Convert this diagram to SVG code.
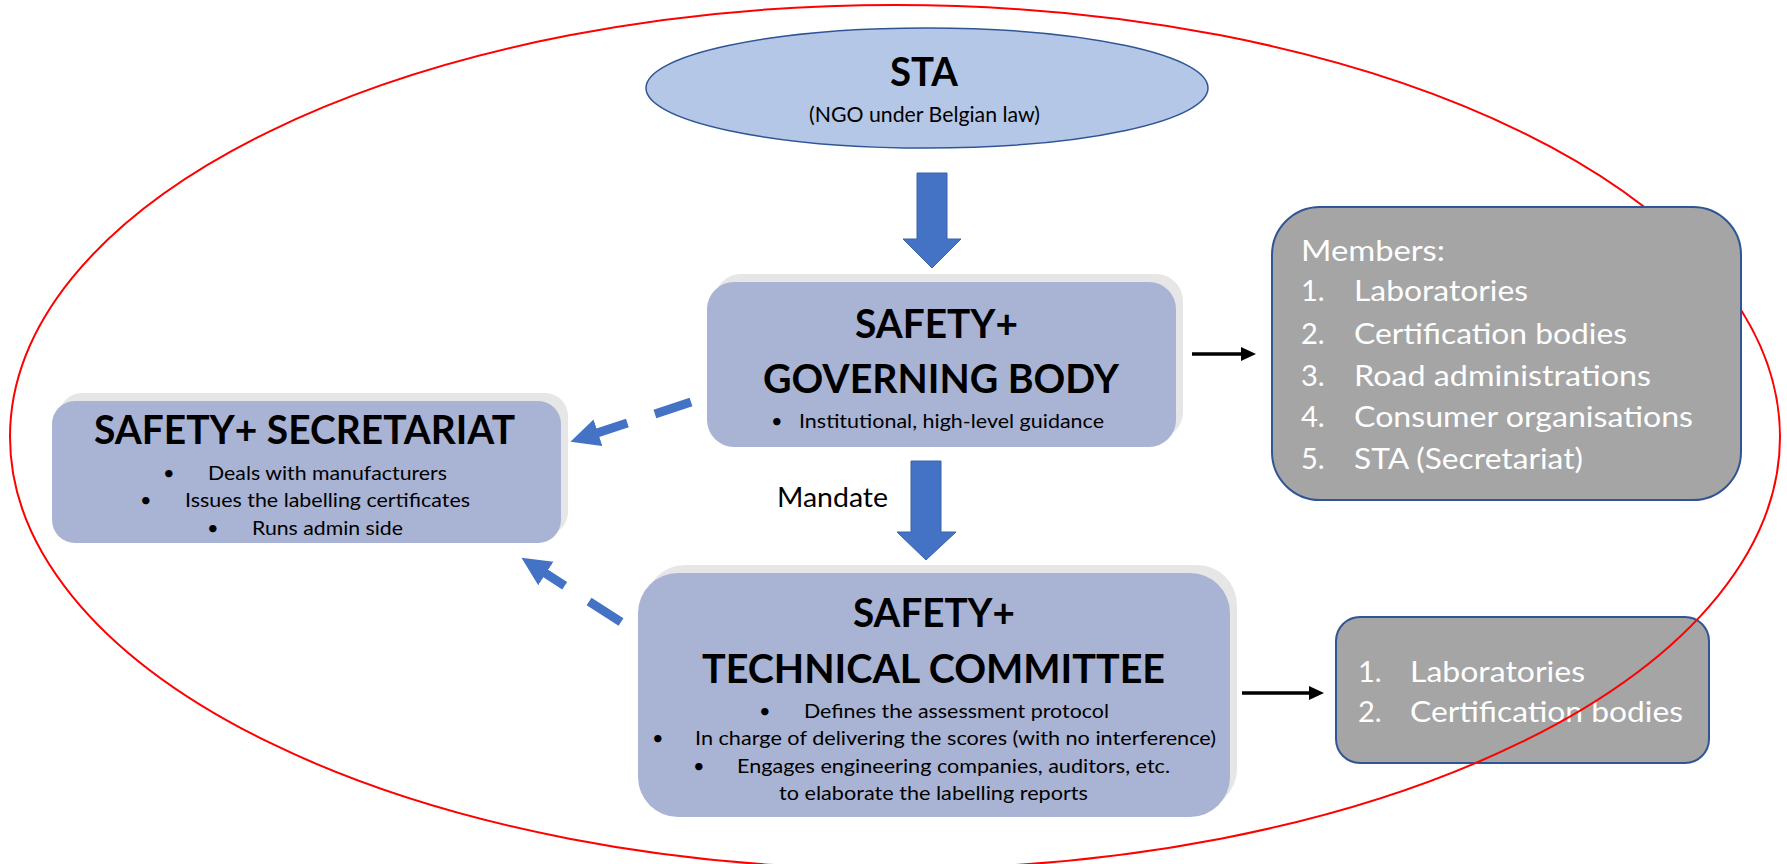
<svg xmlns="http://www.w3.org/2000/svg" width="1787" height="864" viewBox="0 0 1787 864">
  <style>
    .t { font-family: Lato, "Liberation Sans", sans-serif; fill: #000; }
    .title { font-weight: 700; font-size: 40px; }
    .body { font-size: 20px; }
    .list { font-family: Lato, "Liberation Sans", sans-serif; font-size: 29px; fill: #ffffff; }
    .shadow { fill: #e6e6e6; }
    .card { fill: #a9b3d4; }
    .grey { fill: #a5a5a5; stroke: #2f5597; stroke-width: 2; }
    .block { fill: #4472c4; stroke: #3a63ad; stroke-width: 1; }
    .dash { fill: none; stroke: #4472c4; stroke-width: 9; stroke-dasharray: 38 29; }
    .plain { fill: none; stroke: #000; stroke-width: 3.5; }
  </style>
  <defs>
    <marker id="blueHead" markerUnits="userSpaceOnUse" markerWidth="30" markerHeight="30" viewBox="0 0 30 30" refX="1" refY="15" orient="auto">
      <path d="M0,1 L29,15 L0,29 z" fill="#4472c4"/>
    </marker>
    <marker id="blackHead" markerUnits="userSpaceOnUse" markerWidth="16" markerHeight="16" viewBox="0 0 16 16" refX="1" refY="8" orient="auto">
      <path d="M0,1 L15,8 L0,15 z" fill="#000"/>
    </marker>
  </defs>

  <rect width="1787" height="864" fill="#ffffff"/>

  <!-- second list: technical committee members -->
  <g id="tc-members">
    <rect class="grey" x="1336" y="617" width="373" height="146" rx="24"/>
    <text class="list" x="1358" y="682">1.</text>
    <text class="list" x="1410" y="682" textLength="175" lengthAdjust="spacingAndGlyphs">Laboratories</text>
    <text class="list" x="1358" y="722">2.</text>
    <text class="list" x="1410" y="722" textLength="273" lengthAdjust="spacingAndGlyphs">Certification bodies</text>
  </g>

  <!-- red boundary round the organisation -->
  <ellipse id="boundary" cx="895" cy="437" rx="885" ry="432" fill="none" stroke="#ff0000" stroke-width="2"/>

  <!-- first list: governing body members -->
  <g id="gb-members">
    <rect class="grey" x="1272" y="207" width="469" height="293" rx="48"/>
    <text class="list" x="1301" y="261" textLength="144" lengthAdjust="spacingAndGlyphs">Members:</text>
    <text class="list" x="1301" y="301">1.</text>
    <text class="list" x="1354" y="301" textLength="174" lengthAdjust="spacingAndGlyphs">Laboratories</text>
    <text class="list" x="1301" y="344">2.</text>
    <text class="list" x="1354" y="344" textLength="273" lengthAdjust="spacingAndGlyphs">Certification bodies</text>
    <text class="list" x="1301" y="386">3.</text>
    <text class="list" x="1354" y="386" textLength="297" lengthAdjust="spacingAndGlyphs">Road administrations</text>
    <text class="list" x="1301" y="427">4.</text>
    <text class="list" x="1354" y="427" textLength="339" lengthAdjust="spacingAndGlyphs">Consumer organisations</text>
    <text class="list" x="1301" y="469">5.</text>
    <text class="list" x="1354" y="469" textLength="229" lengthAdjust="spacingAndGlyphs">STA (Secretariat)</text>
  </g>

  <!-- STA -->
  <g id="sta">
    <ellipse cx="927" cy="88" rx="281" ry="60" fill="#b4c7e7" stroke="#2f5597" stroke-width="1.5"/>
    <text class="t title" x="890" y="86" textLength="68" lengthAdjust="spacingAndGlyphs">STA</text>
    <text class="t" x="809" y="122" font-size="21" textLength="231" lengthAdjust="spacingAndGlyphs">(NGO under Belgian law)</text>
  </g>

  <!-- governing body -->
  <g id="governing-body">
    <rect class="shadow" x="714" y="274" width="469" height="165" rx="27"/>
    <rect class="card" x="707" y="282" width="469" height="165" rx="27"/>
    <text class="t title" x="855" y="338" textLength="163" lengthAdjust="spacingAndGlyphs">SAFETY+</text>
    <text class="t title" x="763" y="393" textLength="356" lengthAdjust="spacingAndGlyphs">GOVERNING BODY</text>
    <text class="t body" x="771" y="428">•</text>
    <text class="t body" x="799" y="428" textLength="305" lengthAdjust="spacingAndGlyphs">Institutional, high-level guidance</text>
  </g>

  <!-- secretariat -->
  <g id="secretariat">
    <rect class="shadow" x="59" y="393" width="509" height="142" rx="23"/>
    <rect class="card" x="52" y="401" width="509" height="142" rx="23"/>
    <text class="t title" x="94" y="444" textLength="421" lengthAdjust="spacingAndGlyphs">SAFETY+ SECRETARIAT</text>
    <text class="t body" x="163" y="480">•</text>
    <text class="t body" x="208" y="480" textLength="239" lengthAdjust="spacingAndGlyphs">Deals with manufacturers</text>
    <text class="t body" x="140" y="507">•</text>
    <text class="t body" x="185" y="507" textLength="285" lengthAdjust="spacingAndGlyphs">Issues the labelling certificates</text>
    <text class="t body" x="207" y="535">•</text>
    <text class="t body" x="252" y="535" textLength="151" lengthAdjust="spacingAndGlyphs">Runs admin side</text>
  </g>

  <!-- technical committee -->
  <g id="technical-committee">
    <rect class="shadow" x="645" y="565" width="592" height="244" rx="40"/>
    <rect class="card" x="638" y="573" width="592" height="244" rx="40"/>
    <text class="t title" x="853" y="627" textLength="162" lengthAdjust="spacingAndGlyphs">SAFETY+</text>
    <text class="t title" x="702" y="683" textLength="463" lengthAdjust="spacingAndGlyphs">TECHNICAL COMMITTEE</text>
    <text class="t body" x="759" y="718">•</text>
    <text class="t body" x="804" y="718" textLength="305" lengthAdjust="spacingAndGlyphs">Defines the assessment protocol</text>
    <text class="t body" x="652" y="745">•</text>
    <text class="t body" x="695" y="745" textLength="521" lengthAdjust="spacingAndGlyphs">In charge of delivering the scores (with no interference)</text>
    <text class="t body" x="693" y="773">•</text>
    <text class="t body" x="737" y="773" textLength="433" lengthAdjust="spacingAndGlyphs">Engages engineering companies, auditors, etc.</text>
    <text class="t body" x="779" y="800" textLength="309" lengthAdjust="spacingAndGlyphs">to elaborate the labelling reports</text>
  </g>

  <!-- connectors -->
  <g id="connectors">
    <polygon class="block" points="917,173 947,173 947,239 961,239 932,268 903,239 917,239"/>
    <polygon class="block" points="911,461 941,461 941,532 956,532 926,560 897,532 911,532"/>
    <text class="t" x="777" y="507" font-size="26" textLength="111" lengthAdjust="spacingAndGlyphs">Mandate</text>
    <line class="dash" x1="691" y1="402" x2="597" y2="433" marker-end="url(#blueHead)"/>
    <line class="dash" x1="621" y1="622" x2="545" y2="573" marker-end="url(#blueHead)"/>
    <line class="plain" x1="1192" y1="354" x2="1242" y2="354" marker-end="url(#blackHead)"/>
    <line class="plain" x1="1242" y1="693" x2="1310" y2="693" marker-end="url(#blackHead)"/>
  </g>
</svg>
